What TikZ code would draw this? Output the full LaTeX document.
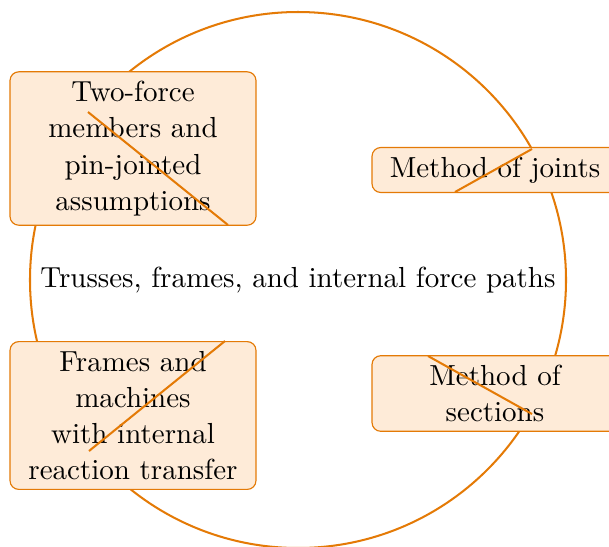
\documentclass[tikz,border=0pt]{standalone}
\usepackage{tikz}
\usetikzlibrary{positioning}
\definecolor{forceorange}{HTML}{E47A06}
\definecolor{topicfill}{HTML}{FEEBD8}
\tikzset{topic/.style = {draw = forceorange, fill = topicfill, thin, rounded corners = 3pt, text width = 74.8pt, align = center, inner xsep = 5pt, inner ysep = 3.2pt, font = \fontsize{10}{12.5}\selectfont}}
\tikzset{cut/.style = {forceorange, line width = 0.7pt}}

\begin{document}
\begin{tikzpicture}[x = 1pt/2.9, y = -1pt/2.9]
          \useasboundingbox (0, 0) rectangle (609, 546);

          \node (paths) at (298, 280) {Trusses, frames, and internal force paths};
          \draw [cut] (paths.center) circle (268);

          \node [topic] (twoforce) at (133, 148.5) {Two-force members and pin-jointed assumptions};
          \node [topic] (joints) at (495, 170) {Method of joints};
          \node [topic] (frames) at (133, 415.5) {Frames and machines with internal reaction transfer};
          \node [topic] (sections) at (495, 393.5) {Method of sections};

          \coordinate (tf1) at (88, 112);
          \coordinate (tf2) at (228, 225);
          \coordinate (mj1) at (532, 149);
          \coordinate (mj2) at (455, 192);
          \coordinate (fm1) at (225, 341);
          \coordinate (fm2) at (89, 451);
          \coordinate (ms1) at (428, 356);
          \coordinate (ms2) at (532, 414);

          \draw [cut] (tf1) -- (tf2);
          \draw [cut] (mj1) -- (mj2);
          \draw [cut] (fm1) -- (fm2);
          \draw [cut] (ms1) -- (ms2);
        \end{tikzpicture}
\end{document}
